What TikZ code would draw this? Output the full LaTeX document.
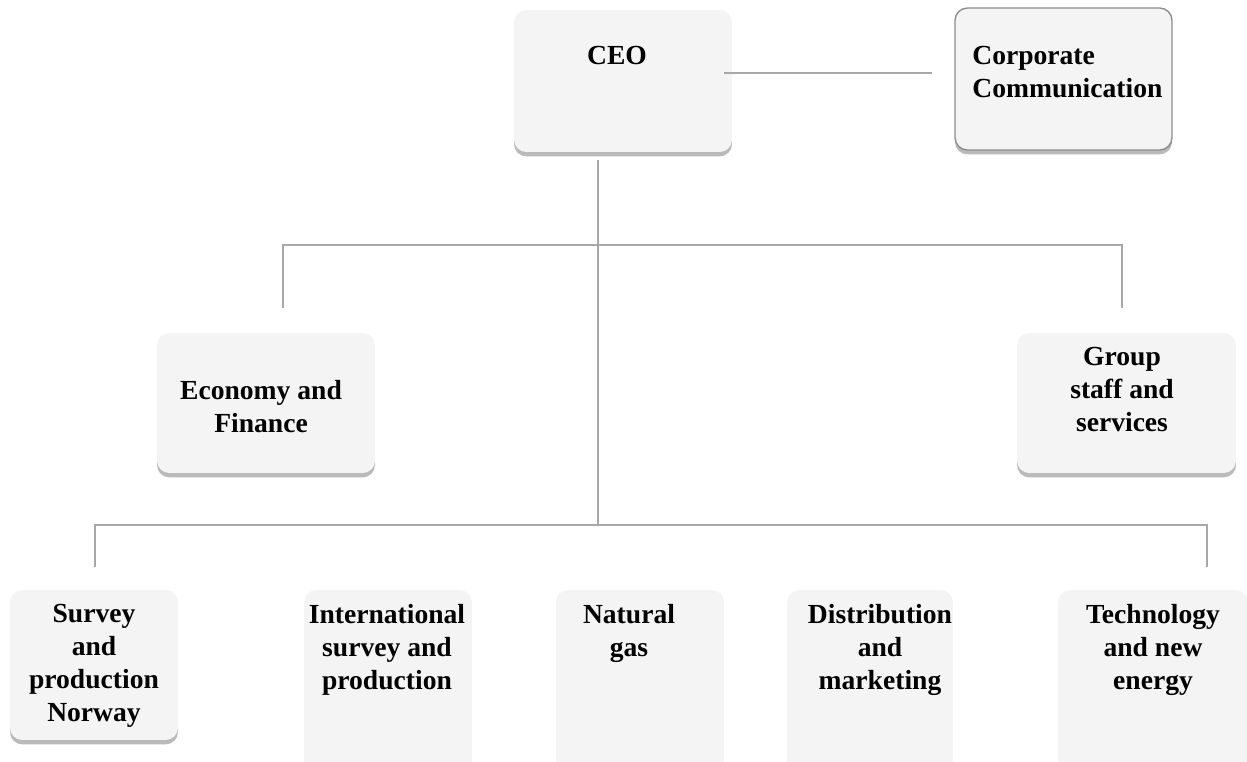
\documentclass[tikz,border=0pt]{standalone}
\usepackage{fontspec}
\setmainfont{Liberation Serif}
\usepackage{tikz}
\usetikzlibrary{shadows}

\definecolor{boxgray}{HTML}{F4F4F4}
\definecolor{linegray}{HTML}{A8A8A8}
\definecolor{rimgray}{HTML}{8E8E8E}

\tikzset{
  unit/.style={fill=boxgray, rounded corners=7pt, inner sep=0pt,
    drop shadow={shadow xshift=0pt, shadow yshift=-2.5pt, fill=black!60, opacity=0.45}},
  unitname/.style={inner sep=0pt, anchor=north, align=center,
    font=\fontsize{15.7pt}{18.8pt}\selectfont\bfseries},
  link/.style={draw=linegray, line width=1.1pt}
}

\begin{document}
\begin{tikzpicture}[x=0.02cm, y=-0.02cm]
                \clip (0,0) rectangle (1247,761);
                % top level
                \node[unit, minimum width=4.36cm, minimum height=2.84cm] (ceo) at (623,81) {};
                \node[unit, draw=rimgray, line width=0.8pt, minimum width=4.34cm, minimum height=2.84cm] (comm) at (1063.5,79) {};
                \node[unitname] (ceo-t) at (617,46) {CEO};
                \node[unitname, anchor=north west, align=left] (comm-t) at (972,46) {Corporate\\Communication};
                % staff level
                \node[unit, minimum width=4.36cm, minimum height=2.8cm] (econ) at (266,403) {};
                \node[unit, minimum width=4.38cm, minimum height=2.8cm] (staff) at (1126.5,403) {};
                \node[unitname] (econ-t) at (261,380) {Economy and\\Finance};
                \node[unitname] (staff-t) at (1122,347) {Group\\staff and\\services};
                % business areas
                \node[unit, minimum width=3.36cm, minimum height=3cm] (norway) at (94,665) {};
                \node[unit, minimum width=3.36cm, minimum height=4cm] (intl) at (388,690) {};
                \node[unit, minimum width=3.36cm, minimum height=4cm] (gas) at (640,690) {};
                \node[unit, minimum width=3.32cm, minimum height=4cm] (market) at (870,690) {};
                \node[unit, minimum width=3.8cm, minimum height=4cm] (energy) at (1153,690) {};
                \node[unitname] (norway-t) at (94,604) {Survey\\and\\production\\Norway};
                \node[unitname] (intl-t) at (387,604) {International\\survey and\\production};
                \node[unitname] (gas-t) at (629,604) {Natural\\gas};
                \node[unitname] (market-t) at (880,604) {Distribution\\and\\marketing};
                \node[unitname] (energy-t) at (1153,604) {Technology\\and new\\energy};
                % connectors
                \coordinate (ceo-e) at (724,73);
                \coordinate (comm-w) at (932,73);
                \coordinate (ceo-s) at (598,160);
                \coordinate (staff-bus) at (598,245);
                \coordinate (area-bus) at (598,525);
                \coordinate (econ-n) at (283,308);
                \coordinate (staff-n) at (1122,308);
                \coordinate (norway-n) at (95,567);
                \coordinate (energy-n) at (1207,567);
                \draw[link] (ceo-e) -- (comm-w);
                \draw[link] (ceo-s) -- (area-bus);
                \draw[link] (econ-n) |- (staff-bus) -| (staff-n);
                \draw[link] (norway-n) |- (area-bus) -| (energy-n);
            \end{tikzpicture}
\end{document}
